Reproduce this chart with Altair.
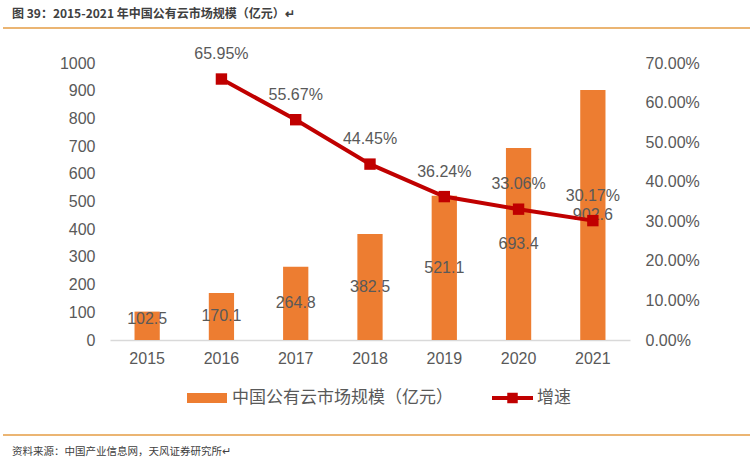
import altair as alt
import pandas as pd

years = ["2015", "2016", "2017", "2018", "2019", "2020", "2021"]
market = [102.5, 170.1, 264.8, 382.5, 521.1, 693.4, 902.6]
growth_pct = [None, 65.95, 55.67, 44.45, 36.24, 33.06, 30.17]

bar_name = "中国公有云市场规模（亿元）"
line_name = "增速"
title_text = "图 39：2015-2021 年中国公有云市场规模（亿元）↵"
source_text = "资料来源：中国产业信息网，天风证券研究所↵"

left_ticks = [0, 100, 200, 300, 400, 500, 600, 700, 800, 900, 1000]
right_ticks = [0, 0.1, 0.2, 0.3, 0.4, 0.5, 0.6, 0.7]

ORANGE = "#ED7D31"
RED = "#C00000"
GRAY = "#595959"
RULE = "#E59D45"
NUM_FONT = "Liberation Sans"
CJK_FONT = "Noto Sans CJK SC"

df = pd.DataFrame({
    "year": years,
    "market": market,
    "growth": [g / 100 if g is not None else None for g in growth_pct],
})
one = pd.DataFrame({"k": [0]})

xscale = alt.Scale(paddingInner=0.66, paddingOuter=0.33)
xaxis = alt.Axis(title=None, labelAngle=0, ticks=False, domainColor="#D9D9D9",
                 domainWidth=1.5, labelColor=GRAY, labelFontSize=16,
                 labelFont=NUM_FONT, labelPadding=10, grid=False)
x_enc = alt.X("year:N", sort=years, scale=xscale, axis=xaxis)
x_pt = alt.X("year:N", sort=years, bandPosition=0.5, scale=xscale, axis=xaxis)

lscale = alt.Scale(domain=[0, 1000], nice=False)
rscale = alt.Scale(domain=[0, 0.7], nice=False)

bars = alt.Chart(df).mark_bar(color=ORANGE).encode(
    x=x_enc,
    y=alt.Y("market:Q", scale=lscale,
            axis=alt.Axis(title=None, orient="left", values=left_ticks, format="d",
                          grid=False, ticks=False, domain=False, labelPadding=15,
                          labelColor=GRAY, labelFontSize=16, labelFont=NUM_FONT)),
)
bar_text = alt.Chart(df).transform_calculate(
    mid="max(datum.market / 2, 76)"
).mark_text(fontSize=16, font=NUM_FONT, color=GRAY, baseline="middle").encode(
    x=x_pt,
    y=alt.Y("mid:Q", scale=lscale, axis=None),
    text=alt.Text("market:Q", format=".1f"),
)

gdf = alt.Chart(df).transform_filter("isValid(datum.growth)")
line = gdf.mark_line(color=RED, strokeWidth=4).encode(
    x=x_pt,
    y=alt.Y("growth:Q", scale=rscale,
            axis=alt.Axis(title=None, orient="right", format=".2%",
                          values=right_ticks, grid=False, ticks=False,
                          domain=False, labelPadding=15, labelColor=GRAY,
                          labelFontSize=16, labelFont=NUM_FONT)),
)
pts = gdf.mark_point(shape="square", filled=True, size=130, opacity=1,
                     color=RED).encode(
    x=x_pt, y=alt.Y("growth:Q", scale=rscale, axis=None))
line_text = gdf.mark_text(fontSize=16, font=NUM_FONT, color=GRAY,
                          baseline="middle", dy=-25).encode(
    x=x_pt,
    y=alt.Y("growth:Q", scale=rscale, axis=None),
    text=alt.Text("growth:Q", format=".2%"),
)

# decorations: title, rules, legend, source
base = alt.Chart(one)
title = base.mark_text(align="left", baseline="middle", fontSize=12,
                       fontWeight="bold", font=CJK_FONT, color="#404040").encode(
    x=alt.value(-98), y=alt.value(-49), text=alt.value(title_text))
top_rule = base.mark_rule(color=RULE, strokeWidth=1.5).encode(
    x=alt.value(-107), x2=alt.value(640), y=alt.value(-35))
bottom_rule = base.mark_rule(color=RULE, strokeWidth=1.5).encode(
    x=alt.value(-107), x2=alt.value(640), y=alt.value(372))
source = base.mark_text(align="left", baseline="middle", fontSize=10.5,
                        font=CJK_FONT, color="#404040").encode(
    x=alt.value(-98), y=alt.value(389), text=alt.value(source_text))

sw = base.mark_rect(color=ORANGE).encode(
    x=alt.value(77), x2=alt.value(117), y=alt.value(330), y2=alt.value(340))
sw_text = base.mark_text(align="left", baseline="middle", fontSize=17,
                         font=CJK_FONT, color=GRAY).encode(
    x=alt.value(122), y=alt.value(335), text=alt.value(bar_name))
lg_line = base.mark_rule(color=RED, strokeWidth=4).encode(
    x=alt.value(382), x2=alt.value(423), y=alt.value(335))
lg_pt = base.mark_point(shape="square", filled=True, size=110, opacity=1,
                        color=RED).encode(x=alt.value(402.5), y=alt.value(335))
lg_text = base.mark_text(align="left", baseline="middle", fontSize=17,
                         font=CJK_FONT, color=GRAY).encode(
    x=alt.value(427), y=alt.value(335), text=alt.value(line_name))

chart = alt.layer(
    bars, bar_text, line, pts, line_text,
    title, top_rule, bottom_rule, source,
    sw, sw_text, lg_line, lg_pt, lg_text,
).resolve_scale(y="independent").properties(
    width=520, height=277, autosize="none",
    padding={"left": 110, "top": 63, "right": 123, "bottom": 124},
    background="white",
).configure_view(stroke=None)

chart.save("out.html", embed_options={"renderer": "svg", "actions": False})
